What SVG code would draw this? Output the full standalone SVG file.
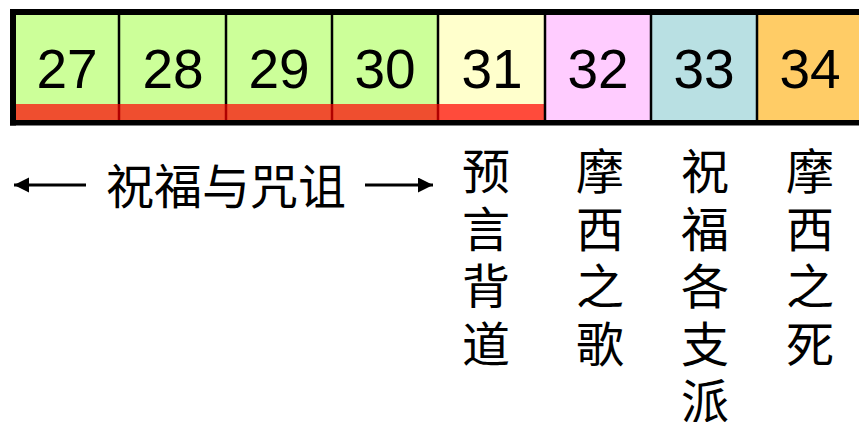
<svg xmlns="http://www.w3.org/2000/svg" width="859" height="422" viewBox="0 0 859 422">
<style>
.num{font-family:"Liberation Sans",Arial,sans-serif;font-size:55px;fill:#000;text-anchor:middle}
.cjk{font-family:"Noto Sans CJK SC","Noto Sans",sans-serif;font-size:48px;fill:#000;text-anchor:middle}
.div{stroke:#000;stroke-width:2.5}
.divr{stroke:#B00000;stroke-width:2.5}
.arr{stroke:#000;stroke-width:3;fill:none}
</style>
<defs>
<marker id="ah" markerWidth="16" markerHeight="16" refX="15" refY="7.5" orient="auto" markerUnits="userSpaceOnUse">
<path d="M0,0 L15,7.5 L0,15 Z" fill="#000"/>
</marker>
</defs>
<rect width="859" height="422" fill="#fff"/>
<g id="cells">
<g id="c27"><rect x="16" y="15" width="104" height="105" fill="#CCFF99"/><rect x="16" y="104" width="104" height="16" fill="#EF4E2F"/><text class="num" x="67" y="88">27</text></g>
<g id="c28"><rect x="120" y="15" width="106" height="105" fill="#CCFF99"/><rect x="120" y="104" width="106" height="16" fill="#EF4E2F"/><text class="num" x="173" y="88">28</text></g>
<g id="c29"><rect x="226" y="15" width="106" height="105" fill="#CCFF99"/><rect x="226" y="104" width="106" height="16" fill="#EF4E2F"/><text class="num" x="279" y="88">29</text></g>
<g id="c30"><rect x="332" y="15" width="106" height="105" fill="#CCFF99"/><rect x="332" y="104" width="106" height="16" fill="#EF4E2F"/><text class="num" x="385" y="88">30</text></g>
<g id="c31"><rect x="438" y="15" width="107" height="105" fill="#FFFFCC"/><rect x="438" y="104" width="107" height="16" fill="#FF4B3B"/><text class="num" x="492" y="88">31</text></g>
<g id="c32"><rect x="545" y="15" width="106" height="105" fill="#FFCCFF"/><text class="num" x="598" y="88">32</text></g>
<g id="c33"><rect x="651" y="15" width="106" height="105" fill="#B9E0E3"/><text class="num" x="704" y="88">33</text></g>
<g id="c34"><rect x="757" y="15" width="106" height="105" fill="#FFCC66"/><text class="num" x="810" y="88">34</text></g>
</g>
<g id="frame">
<line class="div" x1="119" y1="15" x2="119" y2="104"/><line class="divr" x1="119" y1="104" x2="119" y2="120"/>
<line class="div" x1="226" y1="15" x2="226" y2="104"/><line class="divr" x1="226" y1="104" x2="226" y2="120"/>
<line class="div" x1="332" y1="15" x2="332" y2="104"/><line class="divr" x1="332" y1="104" x2="332" y2="120"/>
<line class="div" x1="438" y1="15" x2="438" y2="104"/><line class="divr" x1="438" y1="104" x2="438" y2="120"/>
<line class="div" x1="545" y1="15" x2="545" y2="120"/>
<line class="div" x1="651" y1="15" x2="651" y2="120"/>
<line class="div" x1="757" y1="15" x2="757" y2="120"/>
<rect x="10" y="9" width="849" height="6" fill="#000"/>
<rect x="10" y="120" width="849" height="5.5" fill="#000"/>
<rect x="10" y="9" width="6" height="116.5" fill="#000"/>
</g>
<g id="connectors">
<line class="arr" x1="86" y1="185" x2="14" y2="185" marker-end="url(#ah)"/>
<line class="arr" x1="365" y1="185" x2="433" y2="185" marker-end="url(#ah)"/>
</g>
<g id="label-main"><text class="cjk" x="226" y="204">祝福与咒诅</text></g>
<g id="label-31">
<text class="cjk" x="486" y="189">预<tspan x="486" dy="57.5">言</tspan><tspan x="486" dy="57.5">背</tspan><tspan x="486" dy="57.5">道</tspan></text>
</g>
<g id="label-32">
<text class="cjk" x="600" y="189">摩<tspan x="600" dy="57.5">西</tspan><tspan x="600" dy="57.5">之</tspan><tspan x="600" dy="57.5">歌</tspan></text>
</g>
<g id="label-33">
<text class="cjk" x="705" y="189">祝<tspan x="705" dy="57.5">福</tspan><tspan x="705" dy="57.5">各</tspan><tspan x="705" dy="57.5">支</tspan><tspan x="705" dy="57.5">派</tspan></text>
</g>
<g id="label-34">
<text class="cjk" x="810" y="189">摩<tspan x="810" dy="57.5">西</tspan><tspan x="810" dy="57.5">之</tspan><tspan x="810" dy="57.5">死</tspan></text>
</g>
</svg>
